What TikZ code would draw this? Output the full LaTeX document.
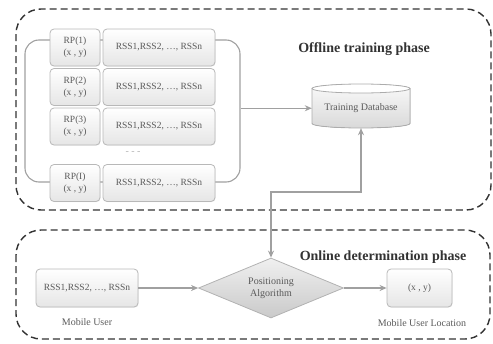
\documentclass[tikz,border=0pt]{standalone}
\usepackage{fontspec}
\setmainfont{Liberation Serif}
\usetikzlibrary{shapes.geometric,arrows.meta,shadows}
\definecolor{txt}{HTML}{5A5A5A}
\definecolor{ln}{HTML}{A0A0A0}
\definecolor{bd}{HTML}{B8B8B8}
\definecolor{dsh}{HTML}{333333}
\definecolor{ttl}{HTML}{333333}
\begin{document}
\begin{tikzpicture}[x=1pt,y=-1pt,
  cell/.style={draw=bd, line width=0.8pt, rounded corners=4pt, top color=white, bottom color=gray!20,
    text=txt, font=\fontsize{9.5}{12}\selectfont, align=center, inner sep=0pt,
    drop shadow={opacity=0.15, shadow xshift=0.6pt, shadow yshift=-0.6pt}},
  phasebox/.style={draw=dsh, dash pattern=on 7pt off 4pt, line width=1.4pt, rounded corners=25pt},
  conn/.style={draw=ln, line width=1.4pt, -{Stealth[length=7pt,width=6pt]}},
  title/.style={font=\fontsize{14}{16}\selectfont\bfseries, text=ttl},
  lbl/.style={font=\fontsize{10}{12}\selectfont, text=txt},
]
\useasboundingbox (0,0) rectangle (493,343);
% phase frames
\draw[phasebox] (16,9) rectangle (491,210);
\draw[phasebox] (16,230) rectangle (490,339);
% group frame
\node (grp) [draw=ln, line width=1.1pt, rounded corners=14pt, minimum width=215pt, minimum height=142pt, inner sep=0pt] at (132.5,111) {};
% rows
\node (rp1) [cell, minimum width=50pt, minimum height=37pt] at (75,47.5) {RP(1)\\(x , y)};
\node (rs1) [cell, minimum width=112pt, minimum height=37pt] at (159,47.5) {RSS1,RSS2, \dots, RSSn};
\node (rp2) [cell, minimum width=50pt, minimum height=37pt] at (75,87) {RP(2)\\(x , y)};
\node (rs2) [cell, minimum width=112pt, minimum height=37pt] at (159,87) {RSS1,RSS2, \dots, RSSn};
\node (rp3) [cell, minimum width=50pt, minimum height=37pt] at (75,126.5) {RP(3)\\(x , y)};
\node (rs3) [cell, minimum width=112pt, minimum height=37pt] at (159,126.5) {RSS1,RSS2, \dots, RSSn};
\node (dots) [lbl, text=gray!60] at (133,153) {- - -};
\node (rp4) [cell, minimum width=50pt, minimum height=37pt] at (75,183) {RP(I)\\(x , y)};
\node (rs4) [cell, minimum width=112pt, minimum height=37pt] at (159,183) {RSS1,RSS2, \dots, RSSn};
% database cylinder
\fill[top color=gray!4, bottom color=gray!30] (312,88.5) -- (312,123.5)
  arc[start angle=180, end angle=360, x radius=49pt, y radius=4.5pt] -- (410,88.5)
  arc[start angle=0, end angle=180, x radius=49pt, y radius=4.5pt] -- cycle;
\draw[draw=gray!65, line width=0.8pt] (312,88.5) -- (312,123.5)
  arc[start angle=180, end angle=360, x radius=49pt, y radius=4.5pt] -- (410,88.5);
\draw[draw=gray!65, line width=0.8pt, fill=white] (361,88.5) ellipse[x radius=49pt, y radius=4.5pt];
\node (db) [minimum width=98pt, minimum height=39.5pt, inner sep=0pt, lbl] at (361,108.25) {Training Database};
\node (t1) [title] at (364,49) {Offline training phase};
% online phase
\node (rssm) [cell, minimum width=102pt, minimum height=38pt] at (87,288) {RSS1,RSS2, \dots, RSSn};
\node (mu) [lbl] at (87,322) {Mobile User};
\node (dia) [diamond, aspect=2.4, minimum width=145pt, minimum height=60pt, inner sep=0pt,
  draw=gray!60, line width=0.8pt, top color=gray!12, bottom color=gray!42, text=txt,
  font=\fontsize{10}{12}\selectfont, align=center] at (271,288) {Positioning\\Algorithm};
\node (loc) [cell, minimum width=65pt, minimum height=38pt] at (419.5,288) {(x , y)};
\node (mul) [lbl] at (422,323) {Mobile User Location};
\node (t2) [title] at (383,257) {Online determination phase};
% connectors
\coordinate (c1) at (271,192);
\coordinate (c2) at (361,192);
\draw[conn] (grp.east |- db.west) -- (db.west);
\draw[conn] (rssm.east) -- (dia.west);
\draw[conn] (dia.east) -- (loc.west);
\draw[conn, {Stealth[length=7pt,width=6pt]}-{Stealth[length=7pt,width=6pt]}] (dia.north) -- (c1) -- (c2) -- (db.south);
\end{tikzpicture}
\end{document}
